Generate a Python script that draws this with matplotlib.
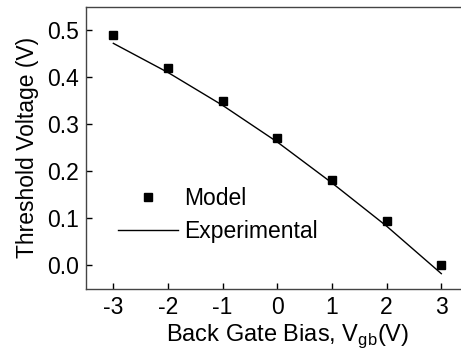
import numpy as np
import matplotlib.pyplot as plt

plt.rcParams['font.family'] = ['Liberation Sans', 'DejaVu Sans']
plt.rcParams['mathtext.fontset'] = 'custom'
plt.rcParams['mathtext.rm'] = 'Liberation Sans'

# datos
bias = [-3, -2, -1, 0, 1, 2, 3]
model = [0.490, 0.420, 0.350, 0.270, 0.182, 0.094, 0.000]
experimental = [0.472, 0.410, 0.340, 0.262, 0.175, 0.083, -0.018]
xticks = [-3, -2, -1, 0, 1, 2, 3]
yticks = [0.0, 0.1, 0.2, 0.3, 0.4, 0.5]

fig = plt.figure(figsize=(4.61, 3.54), dpi=100)
ax = fig.add_axes([0.1866, 0.1845, 0.830, 0.7966])

ax.plot(bias, experimental, 'k-', linewidth=1.0, label='Experimental')
ax.plot(bias, model, 'ks', markersize=6, linestyle='none', label='Model')

ax.set_xlim(-3.5, 3.5)
ax.set_ylim(-0.05, 0.55)
ax.set_xticks(xticks)
ax.set_xticklabels([str(t) for t in xticks])
ax.set_yticks(yticks)
ax.set_yticklabels(['%.1f' % t for t in yticks])

ax.tick_params(direction='in', length=4, width=1, labelsize=16.5, pad=5,
               top=False, right=False)

for s in ax.spines.values():
    s.set_linewidth(1.0)
    s.set_color('#444444')

ax.set_xlabel('Back Gate Bias, V$_{\\mathregular{gb}}$(V)', fontsize=17, labelpad=0)
ax.xaxis.set_label_coords(0.528, -0.118)
ax.set_ylabel('Threshold Voltage (V)', fontsize=16.5, labelpad=6)

h, l = ax.get_legend_handles_labels()
ax.legend([h[1], h[0]], [l[1], l[0]], loc='upper left',
          bbox_to_anchor=(0.0836, 0.36), frameon=False, fontsize=16.5,
          handlelength=2.6, handletextpad=0.3, labelspacing=0.42,
          borderpad=0, borderaxespad=0)

fig.savefig('out.png', dpi=100)
